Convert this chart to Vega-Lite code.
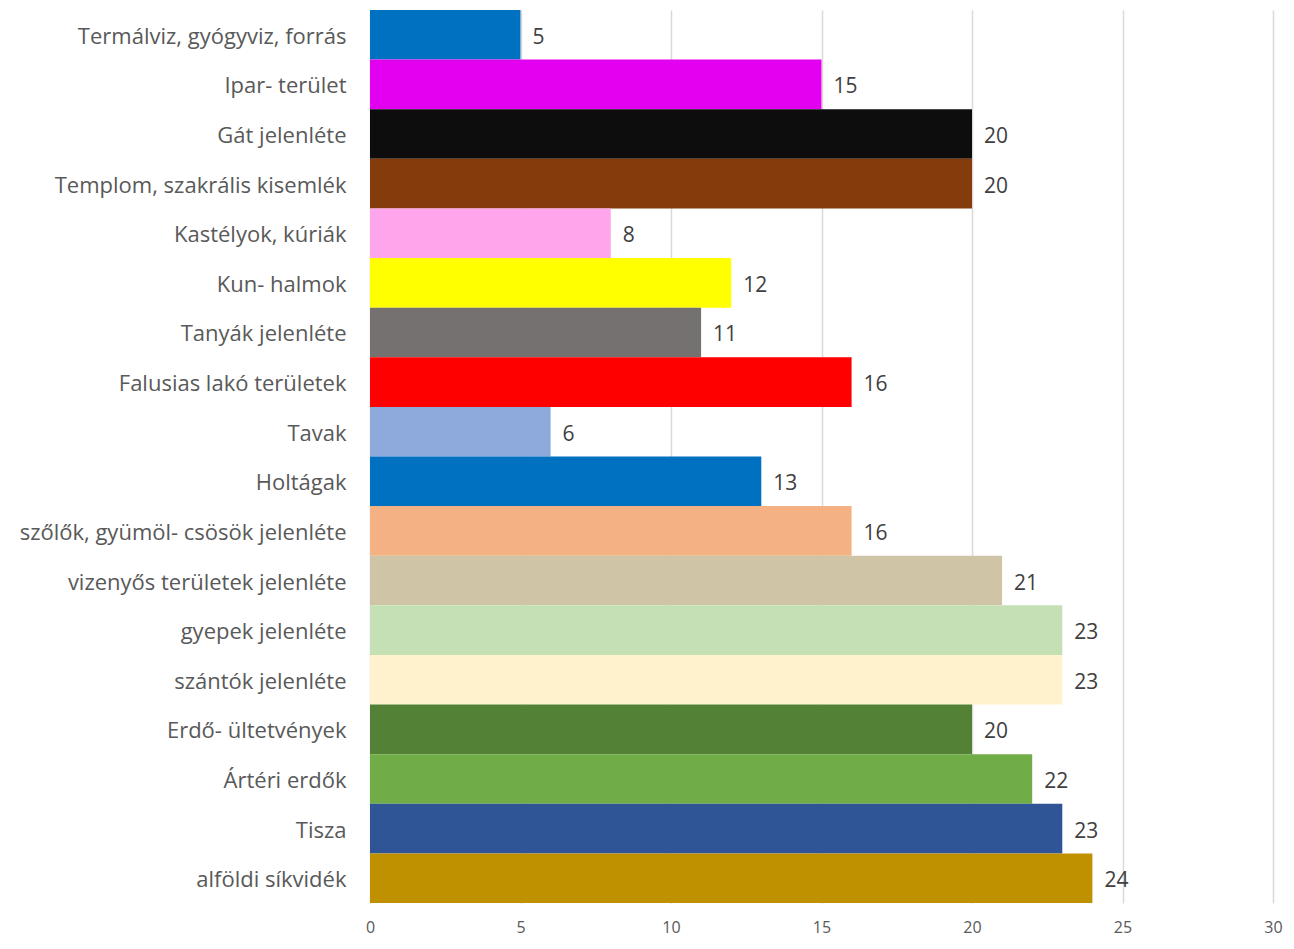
{
  "$schema": "https://vega.github.io/schema/vega-lite/v6.json",
  "autosize": "none",
  "width": 903,
  "height": 893,
  "padding": {"left": 370, "top": 10, "right": 21, "bottom": 46},
  "background": "white",
  "config": {"view": {"stroke": null}, "font": "Open Sans"},
  "data": {"values": [
    {"cat": "Termálviz, gyógyviz, forrás", "v": 5},
    {"cat": "Ipar- terület", "v": 15},
    {"cat": "Gát jelenléte", "v": 20},
    {"cat": "Templom, szakrális kisemlék", "v": 20},
    {"cat": "Kastélyok, kúriák", "v": 8},
    {"cat": "Kun- halmok", "v": 12},
    {"cat": "Tanyák jelenléte", "v": 11},
    {"cat": "Falusias lakó területek", "v": 16},
    {"cat": "Tavak", "v": 6},
    {"cat": "Holtágak", "v": 13},
    {"cat": "szőlők, gyümöl- csösök jelenléte", "v": 16},
    {"cat": "vizenyős területek jelenléte", "v": 21},
    {"cat": "gyepek jelenléte", "v": 23},
    {"cat": "szántók jelenléte", "v": 23},
    {"cat": "Erdő- ültetvények", "v": 20},
    {"cat": "Ártéri erdők", "v": 22},
    {"cat": "Tisza", "v": 23},
    {"cat": "alföldi síkvidék", "v": 24}
  ]},
  "encoding": {
    "y": {"field": "cat", "type": "nominal", "sort": null,
      "scale": {"paddingInner": 0, "paddingOuter": 0},
      "axis": {"title": null, "domain": false, "ticks": false, "labelPadding": 24, "labelOffset": 2,
        "labelFontSize": 22, "labelColor": "#595959", "labelFont": "Open Sans", "labelLimit": 400}},
    "x": {"field": "v", "type": "quantitative",
      "scale": {"domain": [0, 30], "nice": false},
      "axis": {"title": null, "values": [0, 5, 10, 15, 20, 25, 30], "domain": false, "ticks": false,
        "grid": true, "gridColor": "#d9d9d9", "gridWidth": 1.5, "labelPadding": 16, "labelFlush": false,
        "labelFontSize": 16, "labelColor": "#595959", "labelFont": "Open Sans"}}
  },
  "layer": [
    {"mark": {"type": "bar"},
     "encoding": {"color": {"field": "cat", "type": "nominal", "legend": null,
       "scale": {"domain": [
         "Termálviz, gyógyviz, forrás", "Ipar- terület", "Gát jelenléte", "Templom, szakrális kisemlék",
         "Kastélyok, kúriák", "Kun- halmok", "Tanyák jelenléte", "Falusias lakó területek", "Tavak",
         "Holtágak", "szőlők, gyümöl- csösök jelenléte", "vizenyős területek jelenléte", "gyepek jelenléte",
         "szántók jelenléte", "Erdő- ültetvények", "Ártéri erdők", "Tisza", "alföldi síkvidék"],
         "range": ["#0070C0", "#E300F0", "#0D0D0D", "#843C0C", "#FFA5EC", "#FFFF00", "#767171", "#FF0000",
           "#8EA9DB", "#0070C0", "#F4B183", "#CFC5A6", "#C5E0B4", "#FFF2CC", "#538135", "#70AD47",
           "#2F5597", "#BF9000"]}}}},
    {"mark": {"type": "text", "align": "left", "baseline": "middle", "dx": 12, "dy": 3,
      "fontSize": 21, "color": "#404040", "font": "Open Sans"},
     "encoding": {"text": {"field": "v", "type": "quantitative"}}}
  ]
}
